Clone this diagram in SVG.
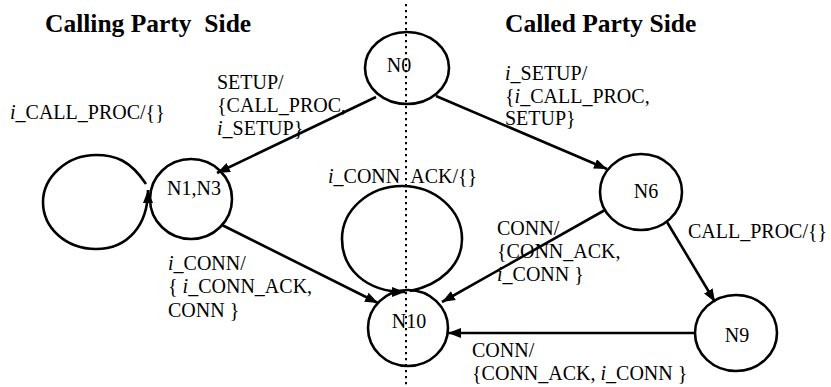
<svg xmlns="http://www.w3.org/2000/svg" width="831" height="387" viewBox="0 0 831 387">
  <style>
    .node ellipse { fill: none; stroke: #000; stroke-width: 2.6; }
    .node text { font-family: "Liberation Serif", "Times New Roman", serif; font-size: 20px; fill: #000; text-anchor: middle; }
    .lbl { font-family: "Liberation Serif", "Times New Roman", serif; font-size: 20px; fill: #000; }
    .lbl .it { font-style: italic; }
    .head { font-family: "Liberation Serif", "Times New Roman", serif; font-size: 25.5px; font-weight: bold; fill: #000; white-space: pre; }
    .edge { fill: none; stroke: #000; stroke-width: 2.6; marker-end: url(#arrow); }
    .divider { stroke: #000; stroke-width: 2; stroke-dasharray: 2.2 3.8; }
  </style>
  <defs>
    <marker id="arrow" markerUnits="userSpaceOnUse" markerWidth="14" markerHeight="12" refX="13" refY="5" orient="auto">
      <path d="M0,0 L13,5 L0,10 z" fill="#000"/>
    </marker>
  </defs>

  <rect width="831" height="387" fill="#fff"/>

  <!-- side divider -->
  <line class="divider" x1="406" y1="4" x2="406" y2="387"/>

  <!-- headings -->
  <text class="head" x="45" y="32">Calling Party  Side</text>
  <text class="head" x="505" y="32">Called Party Side</text>

  <!-- connectors -->
  <g id="connectors">
    <line class="edge" x1="376" y1="97" x2="217" y2="173"/>
    <line class="edge" x1="436" y1="96" x2="607" y2="169"/>
    <line class="edge" x1="222" y1="225" x2="378" y2="303"/>
    <line class="edge" x1="605" y1="210" x2="442" y2="302"/>
    <line class="edge" x1="667" y1="222" x2="715" y2="302"/>
    <line class="edge" x1="695" y1="333" x2="448" y2="333"/>
    <!-- self loop on N1,N3 -->
    <path class="edge" d="M146,184 C130,160 115,155 96,155 C66,155 43,178 43,202 C43,228 66,249 96,249 C128,249 148,225 148,190"/>
    <!-- self loop on N10 -->
    <path class="edge" d="M410,291 C440,285 462,265 462,239 C462,210 435,186 402,186 C369,186 342,210 342,239 C342,268 365,292 405,292"/>
  </g>

  <!-- transition labels -->
  <text class="lbl" x="10" y="119"><tspan class="it">i</tspan>_CALL_PROC/{}</text>
  <text class="lbl" x="217" y="89">SETUP/</text>
  <text class="lbl" x="217" y="112">{CALL_PROC,</text>
  <text class="lbl" x="217" y="135"><tspan class="it">i</tspan>_SETUP}</text>
  <text class="lbl" x="505" y="80"><tspan class="it">i</tspan>_SETUP/</text>
  <text class="lbl" x="505" y="103">{<tspan class="it">i</tspan>_CALL_PROC,</text>
  <text class="lbl" x="505" y="125">SETUP}</text>
  <text class="lbl" x="328" y="183"><tspan class="it">i</tspan>_CONN_ACK/{}</text>
  <text class="lbl" x="497" y="235">CONN/</text>
  <text class="lbl" x="497" y="258">{CONN_ACK,</text>
  <text class="lbl" x="497" y="281"><tspan class="it">i</tspan>_CONN }</text>
  <text class="lbl" x="688" y="238">CALL_PROC/{}</text>
  <text class="lbl" x="168" y="270"><tspan class="it">i</tspan>_CONN/</text>
  <text class="lbl" x="168" y="293">{ <tspan class="it">i</tspan>_CONN_ACK,</text>
  <text class="lbl" x="168" y="317">CONN }</text>
  <text class="lbl" x="472" y="357">CONN/</text>
  <text class="lbl" x="472" y="380">{CONN_ACK, <tspan class="it">i</tspan>_CONN }</text>

  <!-- states -->
  <g id="N0" class="node">
    <ellipse cx="407" cy="68" rx="42" ry="36"/>
    <text x="399" y="72">N0</text>
  </g>
  <g id="N1N3" class="node">
    <ellipse cx="191" cy="199" rx="41" ry="40"/>
    <text x="194" y="195">N1,N3</text>
  </g>
  <g id="N6" class="node">
    <ellipse cx="641" cy="192" rx="41" ry="38"/>
    <text x="646" y="198">N6</text>
  </g>
  <g id="N9" class="node">
    <ellipse cx="736" cy="333" rx="41" ry="38"/>
    <text x="737" y="342">N9</text>
  </g>
  <g id="N10" class="node">
    <ellipse cx="408" cy="328" rx="40" ry="38"/>
    <text x="409" y="328">N10</text>
  </g>
</svg>
